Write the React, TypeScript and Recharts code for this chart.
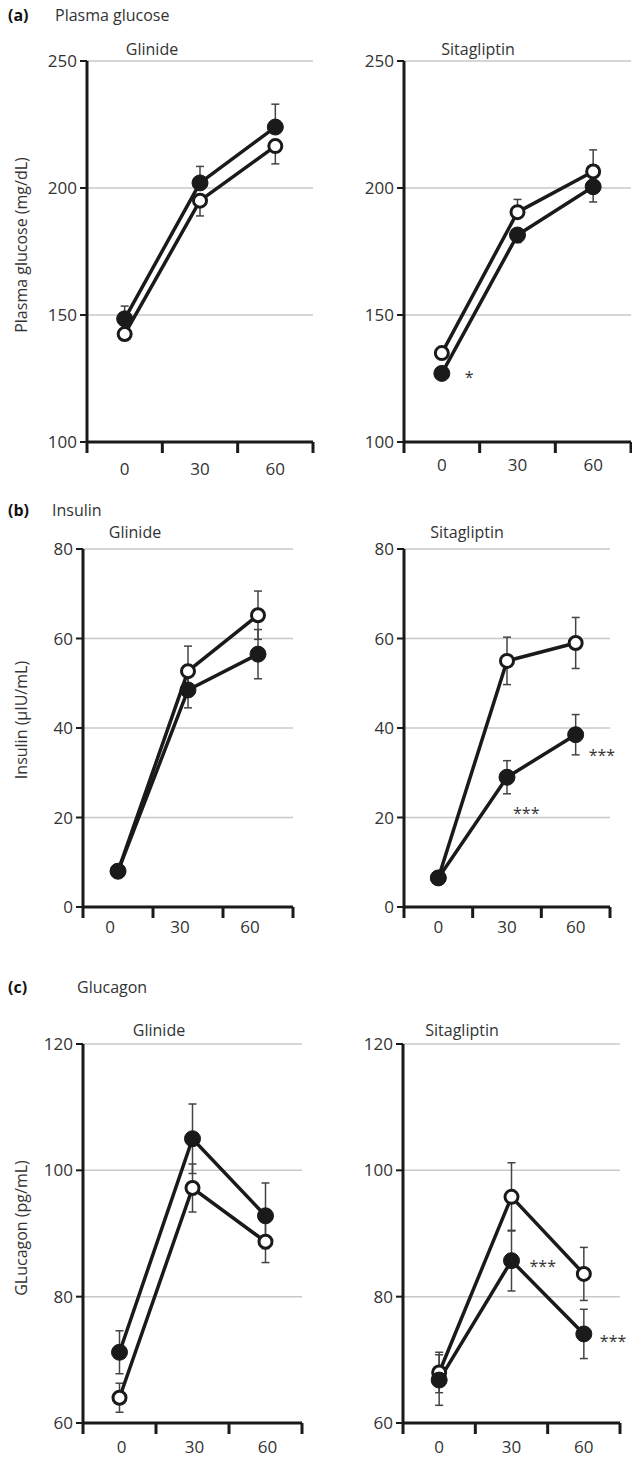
import React from 'react'
import { LineChart, Line, XAxis, YAxis, CartesianGrid, ErrorBar, LabelList } from 'recharts'

const times = [0, 30, 60]
// band edges sit half-way between the sampling times
const xTicks = [-15, 0, 15, 30, 45, 60, 75]

// (a) plasma glucose (mg/dL)
const glucoseTicks = [100, 150, 200, 250]
const glucoseGlinideOpen = [142.5, 195, 216.5]
const glucoseGlinideOpenErr = [[2.5, 0], [6, 0], [7, 0]]
const glucoseGlinideFilled = [148.5, 202, 224]
const glucoseGlinideFilledErr = [[0, 5], [0, 6.5], [0, 9]]
const glucoseSitaOpen = [135, 190.5, 206.5]
const glucoseSitaOpenErr = [[0, 2], [0, 5], [0, 8.5]]
const glucoseSitaFilled = [127, 181.5, 200.5]
const glucoseSitaFilledErr = [[2, 0], [3, 0], [6, 0]]
const glucoseSitaSig = ['*', '', '']

// (b) insulin (µIU/mL)
const insulinTicks = [0, 20, 40, 60, 80]
const insulinGlinideOpen = [8, 52.7, 65.2]
const insulinGlinideOpenErr = [1, 5.6, 5.4]
const insulinGlinideFilled = [8, 48.5, 56.5]
const insulinGlinideFilledErr = [1, 4, 5.5]
const insulinSitaOpen = [6.5, 55, 59]
const insulinSitaOpenErr = [1, 5.3, 5.7]
const insulinSitaFilled = [6.5, 29, 38.5]
const insulinSitaFilledErr = [1, 3.7, 4.5]
const insulinSitaSig = ['', '***', '***']

// (c) glucagon (pg/mL)
const glucagonTicks = [60, 80, 100, 120]
const glucagonGlinideOpen = [64, 97.2, 88.7]
const glucagonGlinideOpenErr = [2.3, 3.8, 3.3]
const glucagonGlinideFilled = [71.2, 105, 92.8]
const glucagonGlinideFilledErr = [3.4, 5.5, 5.2]
const glucagonSitaOpen = [68, 95.8, 83.6]
const glucagonSitaOpenErr = [3.2, 5.4, 4.2]
const glucagonSitaFilled = [66.8, 85.7, 74.1]
const glucagonSitaFilledErr = [4, 4.8, 3.9]
const glucagonSitaSig = ['', '***', '***']

const FONT = "'Open Sans', 'Noto Sans', sans-serif"
const INK = '#1a1a1a'
const TEXT = '#333'

const rows = (open, openErr, filled, filledErr, sig = ['', '', '']) =>
  times.map((t, i) => ({
    t,
    open: open[i],
    openErr: openErr[i],
    filled: filled[i],
    filledErr: filledErr[i],
    sig: sig[i],
  }))

const panels = [
  {
    key: 'a1',
    data: rows(glucoseGlinideOpen, glucoseGlinideOpenErr, glucoseGlinideFilled, glucoseGlinideFilledErr),
    ticks: glucoseTicks,
    plot: { l: 87, t: 61, r: 313, b: 442 },
    chartLeft: 0,
    labelDy: 26,
    labelDx: 0,
    sigPos: [],
  },
  {
    key: 'a2',
    data: rows(glucoseSitaOpen, glucoseSitaOpenErr, glucoseSitaFilled, glucoseSitaFilledErr, glucoseSitaSig),
    ticks: glucoseTicks,
    plot: { l: 404, t: 61, r: 631, b: 442 },
    chartLeft: 316,
    labelDy: 22,
    labelDx: 0,
    sigPos: [[23, -1], [0, 0], [0, 0]],
  },
  {
    key: 'b1',
    data: rows(insulinGlinideOpen, insulinGlinideOpenErr, insulinGlinideFilled, insulinGlinideFilledErr),
    ticks: insulinTicks,
    plot: { l: 83, t: 549, r: 293, b: 907 },
    chartLeft: 0,
    labelDy: 19,
    labelDx: -8,
    sigPos: [],
  },
  {
    key: 'b2',
    data: rows(insulinSitaOpen, insulinSitaOpenErr, insulinSitaFilled, insulinSitaFilledErr, insulinSitaSig),
    ticks: insulinTicks,
    plot: { l: 404, t: 549, r: 610, b: 907 },
    chartLeft: 316,
    labelDy: 19,
    labelDx: 0,
    sigPos: [[0, 0], [6, 31], [13, 15]],
  },
  {
    key: 'c1',
    data: rows(glucagonGlinideOpen, glucagonGlinideOpenErr, glucagonGlinideFilled, glucagonGlinideFilledErr),
    ticks: glucagonTicks,
    plot: { l: 83, t: 1044, r: 302, b: 1423 },
    chartLeft: 0,
    labelDy: 23,
    labelDx: 2,
    sigPos: [],
  },
  {
    key: 'c2',
    data: rows(glucagonSitaOpen, glucagonSitaOpenErr, glucagonSitaFilled, glucagonSitaFilledErr, glucagonSitaSig),
    ticks: glucagonTicks,
    plot: { l: 403, t: 1044, r: 620, b: 1423 },
    chartLeft: 316,
    labelDy: 23,
    labelDx: 0,
    sigPos: [[0, 0], [18, 0], [16, 2]],
  },
]

const texts = [
  { s: '(a)', x: 8, y: 15, bold: true },
  { s: 'Plasma glucose', x: 55, y: 15 },
  { s: 'Glinide', cx: 152, y: 49 },
  { s: 'Sitagliptin', cx: 478, y: 49 },
  { s: '(b)', x: 8, y: 510, bold: true },
  { s: 'Insulin', x: 52, y: 510 },
  { s: 'Glinide', cx: 135, y: 532 },
  { s: 'Sitagliptin', cx: 467, y: 532 },
  { s: '(c)', x: 8, y: 987, bold: true },
  { s: 'Glucagon', x: 77, y: 987 },
  { s: 'Glinide', cx: 159, y: 1030 },
  { s: 'Sitagliptin', cx: 462, y: 1030 },
]

const yTitles = [
  { s: 'Plasma glucose (mg/dL)', cy: 245 },
  { s: 'Insulin (\u00b5IU/mL)', cy: 720 },
  { s: 'GLucagon (pg/mL)', cy: 1228 },
]

const YW = 50
const TOP = 15
const XH = 40
const HALF = 316

function TimeTick({ x, y, payload, labelDx, labelDy }) {
  const v = payload.value
  if (times.includes(v)) {
    return (
      <text x={x + labelDx} y={y + labelDy} textAnchor="middle" dominantBaseline="central"
        fontSize={17} fill={TEXT} fontFamily={FONT}>
        {v}
      </text>
    )
  }
  return <line x1={x} x2={x} y1={y} y2={y + 11} stroke={INK} strokeWidth={3} />
}

function Panel({ p }) {
  const { plot, chartLeft } = p
  const width = HALF
  const height = plot.b - plot.t + TOP + XH
  const rightMargin = chartLeft + width - plot.r
  // significance stars, anchored at their left edge next to the filled point
  const renderSig = (props) => {
    const { x, y, value, index } = props
    if (!value) return null
    const [dx, dy] = p.sigPos[index] || [0, 0]
    return (
      <text key={`sig-${index}`} x={x + dx} y={y + dy + 5} textAnchor="start" dominantBaseline="central"
        fontSize={16} fill={TEXT} fontFamily={FONT}>
        {value}
      </text>
    )
  }

  return (
    <div style={{ position: 'absolute', left: chartLeft, top: plot.t - TOP }}>
      <LineChart
        width={width}
        height={height}
        data={p.data}
        margin={{ top: TOP, right: rightMargin, bottom: 0, left: plot.l - chartLeft - YW }}
      >
        <CartesianGrid horizontal vertical={false} stroke="#c8c8c8" strokeWidth={1.5} />
        <XAxis
          dataKey="t"
          type="number"
          domain={[-15, 75]}
          ticks={xTicks}
          interval={0}
          height={XH}
          tickSize={0}
          tickMargin={0}
          tickLine={false}
          axisLine={{ stroke: INK, strokeWidth: 3 }}
          tick={(props) => <TimeTick {...props} labelDx={p.labelDx} labelDy={p.labelDy} />}
        />
        <YAxis
          type="number"
          width={YW}
          domain={[p.ticks[0], p.ticks[p.ticks.length - 1]]}
          ticks={p.ticks}
          interval={0}
          tickSize={7}
          tickMargin={3}
          tickLine={{ stroke: INK, strokeWidth: 2 }}
          axisLine={{ stroke: INK, strokeWidth: 3 }}
          tick={{ fill: TEXT, fontSize: 17, fontFamily: FONT }}
        />
        <Line
          dataKey="open"
          stroke={INK}
          strokeWidth={3.5}
          isAnimationActive={false}
          dot={{ r: 6.5, fill: '#fff', stroke: INK, strokeWidth: 3 }}
          activeDot={false}
        >
          <ErrorBar dataKey="openErr" width={4} stroke="#444" strokeWidth={1.5} direction="y" />
        </Line>
        <Line
          dataKey="filled"
          stroke={INK}
          strokeWidth={3.5}
          isAnimationActive={false}
          dot={{ r: 8, fill: INK, stroke: INK, strokeWidth: 1 }}
          activeDot={false}
        >
          <ErrorBar dataKey="filledErr" width={4} stroke="#444" strokeWidth={1.5} direction="y" />
          <LabelList dataKey="sig" content={renderSig} />
        </Line>
      </LineChart>
    </div>
  )
}

export default function App() {
  return (
    <div style={{ position: 'absolute', left: 0, top: 0, width: 632, height: 1458, overflow: 'hidden', background: '#fff', fontFamily: FONT, color: TEXT }}>
      {panels.map((p) => (
        <Panel key={p.key} p={p} />
      ))}

      {texts.map((t, i) => (
        <div
          key={i}
          style={{
            position: 'absolute',
            left: t.cx ?? t.x,
            top: t.y,
            transform: t.cx != null ? 'translate(-50%, -50%)' : 'translateY(-50%)',
            fontSize: 16,
            fontWeight: t.bold ? 700 : 400,
            color: t.bold ? '#111' : TEXT,
            whiteSpace: 'nowrap',
            lineHeight: 1,
          }}
        >
          {t.s}
        </div>
      ))}

      {/* rotated y-axis titles */}
      {yTitles.map((t, i) => (
        <div
          key={i}
          style={{
            position: 'absolute',
            left: 21,
            top: t.cy,
            transform: 'translate(-50%, -50%) rotate(-90deg)',
            fontSize: 16,
            whiteSpace: 'nowrap',
            lineHeight: 1,
          }}
        >
          {t.s}
        </div>
      ))}
    </div>
  )
}
